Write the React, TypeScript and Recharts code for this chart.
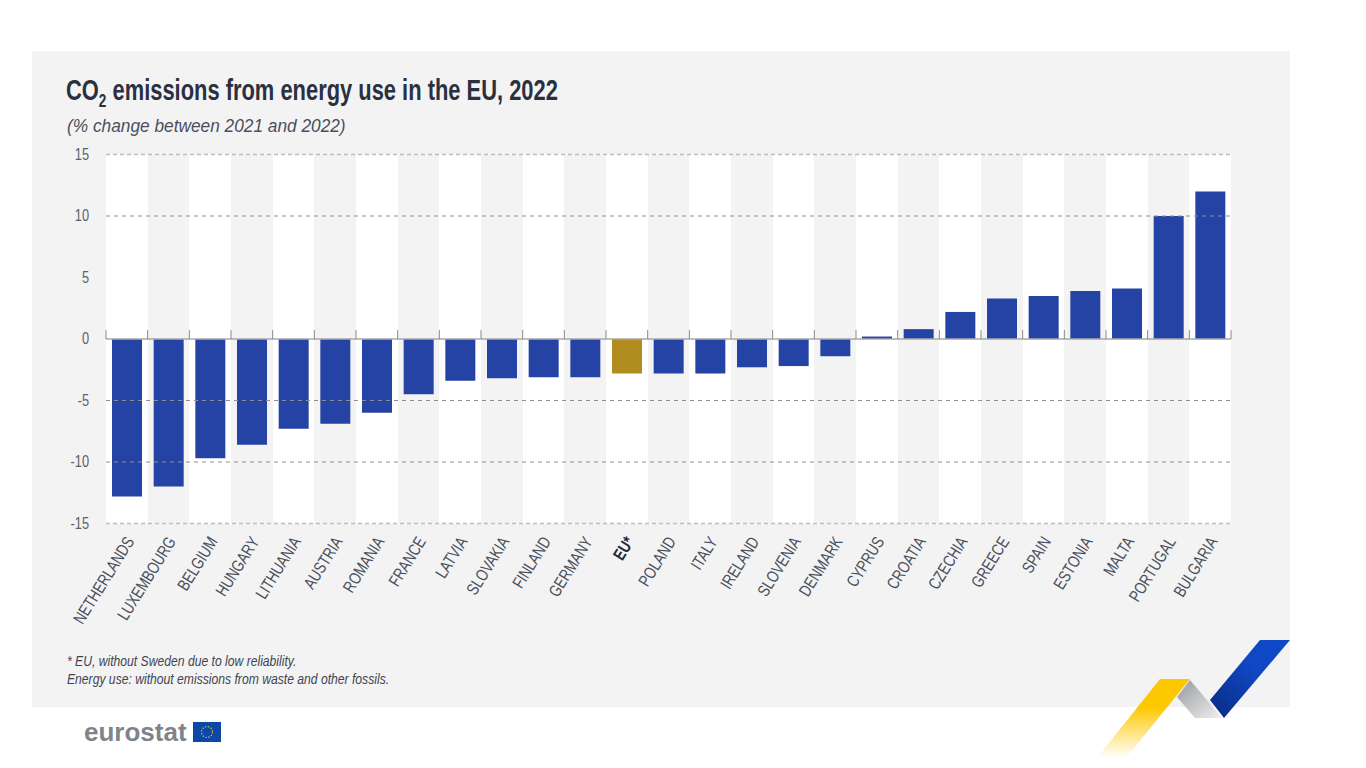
import { BarChart, Bar, Cell, XAxis, YAxis, CartesianGrid, ReferenceLine } from "recharts";

const countries = [
  "NETHERLANDS", "LUXEMBOURG", "BELGIUM", "HUNGARY", "LITHUANIA", "AUSTRIA", "ROMANIA", "FRANCE", "LATVIA",
  "SLOVAKIA", "FINLAND", "GERMANY", "EU*", "POLAND", "ITALY", "IRELAND", "SLOVENIA", "DENMARK", "CYPRUS",
  "CROATIA", "CZECHIA", "GREECE", "SPAIN", "ESTONIA", "MALTA", "PORTUGAL", "BULGARIA",
];
const changes = [
  -12.8, -12.0, -9.7, -8.6, -7.3, -6.9, -6.0, -4.5, -3.4, -3.2, -3.1, -3.1, -2.8, -2.8, -2.8, -2.3, -2.2, -1.4,
  0.2, 0.8, 2.2, 3.3, 3.5, 3.9, 4.1, 10.0, 12.0,
];
const yTicks = [-15, -10, -5, 0, 5, 10, 15];
const darkLines = [-10, -5, 10];
const paleLines = [-15, 15];
const data = countries.map((name, i) => ({ name, value: changes[i] }));

// no condensed face is installed, so the text is squeezed with scaleX
const FONT = '"Liberation Sans", sans-serif';
const BLUE = "#2542a5";
const GOLD = "#b08d1e";
const PANEL = "#f3f3f4";

const margin = { top: 154.5, right: 135, bottom: 124.5, left: 46 };
const zeroY = 339;

// labels sit under the plot, the small tick marks sit on the zero line
const CountryTick = (props: any) => {
  const { x, y, index, payload } = props;
  const band = 1125 / countries.length;
  const isEU = payload.value === "EU*";
  return (
    <g>
      <line x1={x - band / 2} x2={x - band / 2} y1={zeroY - 9} y2={zeroY} stroke="#8a8a8a" strokeWidth={1} />
      {index === countries.length - 1 && (
        <line x1={x + band / 2} x2={x + band / 2} y1={zeroY - 9} y2={zeroY} stroke="#8a8a8a" strokeWidth={1} />
      )}
      <text
        transform={`translate(${x + 8},${y + 10}) rotate(-58) scale(0.78,1)`}
        textAnchor="end"
        fontFamily={FONT}
        fontSize={17}
        fontWeight={isEU ? 700 : 400}
        fill={isEU ? "#23283a" : "#4a4f5c"}
      >
        {payload.value}
      </text>
    </g>
  );
};

const ValueTick = (props: any) => {
  const { x, y, payload } = props;
  return (
    <text
      transform={`translate(${x},${y + 5}) scale(0.8,1)`}
      textAnchor="end"
      fontFamily={FONT}
      fontSize={16}
      fill="#5c616c"
    >
      {payload.value}
    </text>
  );
};

const Swoosh = () => (
  <svg width={1366} height={768} style={{ position: "absolute", left: 0, top: 0 }}>
    <defs>
      <linearGradient id="yellowFade" x1="0" y1="0" x2="0" y2="1">
        <stop offset="0.35" stopColor="#fdc800" />
        <stop offset="1" stopColor="#fdc800" stopOpacity={0} />
      </linearGradient>
      <linearGradient id="greyFade" x1="0" y1="0" x2="1" y2="1">
        <stop offset="0" stopColor="#97999d" />
        <stop offset="1" stopColor="#f0f0f0" />
      </linearGradient>
      <linearGradient id="blueFade" x1="0" y1="1" x2="1" y2="0">
        <stop offset="0.1" stopColor="#0b2f8c" />
        <stop offset="0.6" stopColor="#0f48c4" />
      </linearGradient>
    </defs>
    <polygon points="1160,679 1190,679 1126,758 1097,758" fill="url(#yellowFade)" />
    <polygon points="1190,680 1222,718 1195,718 1177,697" fill="url(#greyFade)" />
    <polygon points="1260,640 1290,640 1224,718 1210,700" fill="url(#blueFade)" />
  </svg>
);

const squeeze = (k: number) => ({ transform: `scaleX(${k})`, transformOrigin: "left top", whiteSpace: "nowrap" as const });

const App = () => (
  <div style={{ position: "absolute", left: 0, top: 0, width: 1366, height: 768, background: "#fff", overflow: "hidden" }}>
    <div style={{ position: "absolute", left: 32, top: 51, width: 1258, height: 656, background: PANEL }} />
    <div style={{ position: "absolute", left: 66, top: 74, fontFamily: FONT, fontWeight: 700, fontSize: 29, color: "#2b3040", ...squeeze(0.755) }}>
      CO<sub style={{ fontSize: 18, lineHeight: 0 }}>2</sub> emissions from energy use in the EU, 2022
    </div>
    <div style={{ position: "absolute", left: 67, top: 116, fontFamily: FONT, fontStyle: "italic", fontSize: 18, color: "#4a4f5c", ...squeeze(0.96) }}>
      (% change between 2021 and 2022)
    </div>
    <div style={{ position: "absolute", left: 0, top: 0 }}>
      <BarChart width={1366} height={768} data={data} margin={margin} barSize={30}>
        <CartesianGrid
          horizontal={false}
          stroke="none"
          verticalFill={["#ffffff", PANEL]}
          fillOpacity={1}
          verticalCoordinatesGenerator={({ offset }: any) =>
            countries.map((_, i) => offset.left + (i * offset.width) / countries.length)
          }
        />
        {darkLines.map((v) => (
          <ReferenceLine key={v} y={v} stroke="#8f8f8f" strokeDasharray="4 4" strokeWidth={1} />
        ))}
        {paleLines.map((v) => (
          <ReferenceLine key={v} y={v} stroke="#bdbdbd" strokeDasharray="4 3" strokeWidth={1.5} />
        ))}
        <XAxis dataKey="name" height={120} axisLine={false} tickLine={false} interval={0} tick={<CountryTick />} />
        <YAxis
          domain={[-15, 15]}
          ticks={yTicks}
          width={60}
          axisLine={false}
          tickLine={false}
          tickMargin={11}
          tick={<ValueTick />}
        />
        <ReferenceLine y={0} stroke="#a9a9a9" strokeWidth={1.5} />
        <Bar dataKey="value" isAnimationActive={false}>
          {data.map((d) => (
            <Cell key={d.name} fill={d.name === "EU*" ? GOLD : BLUE} />
          ))}
        </Bar>
      </BarChart>
    </div>
    <div style={{ position: "absolute", left: 67, top: 652, fontFamily: FONT, fontStyle: "italic", fontSize: 15, lineHeight: "18px", color: "#3f4450", ...squeeze(0.81) }}>
      * EU, without Sweden due to low reliability.
      <br />
      Energy use: without emissions from waste and other fossils.
    </div>
    <div style={{ position: "absolute", left: 84, top: 717, fontFamily: FONT, fontWeight: 700, fontSize: 26, color: "#7f848b" }}>
      eurostat
    </div>
    <svg width={28} height={20} style={{ position: "absolute", left: 193, top: 722 }}>
      <rect width={28} height={20} fill="#0d47a8" />
      <circle cx={14} cy={10} r={5.5} fill="none" stroke="#d9c44a" strokeWidth={1.2} strokeDasharray="1.3 1.6" />
    </svg>
    <Swoosh />
  </div>
);

export default App;
